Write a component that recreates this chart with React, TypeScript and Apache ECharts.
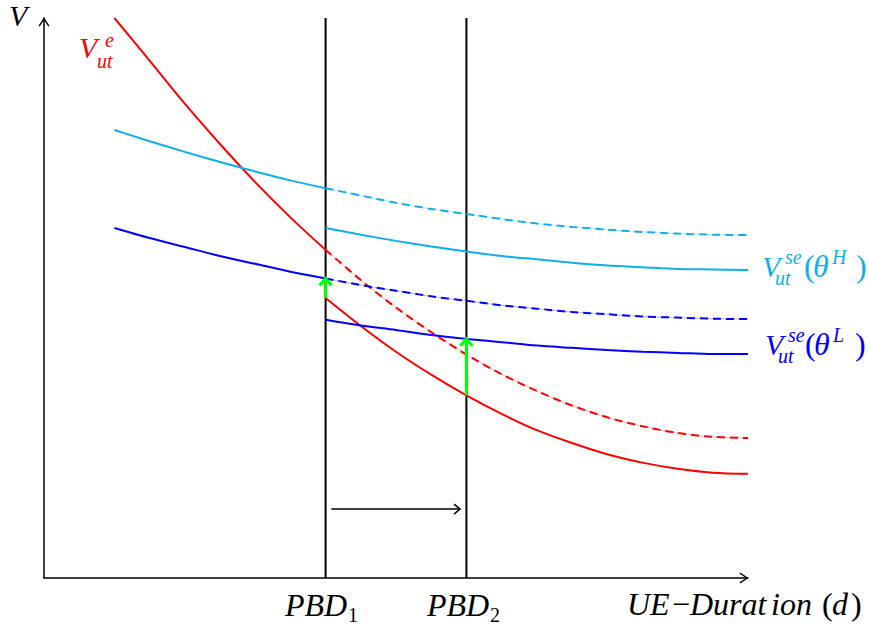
import React, { useEffect, useRef } from "react";
import * as echarts from "echarts";

// x positions (UE duration) at which curve values were read
const xsFull = [1, 1.5, 2, 2.5, 3, 3.5, 4, 4.5, 5, 5.5, 6, 6.5, 7, 7.5, 8, 8.5, 9, 9.5, 10];
const xsAfter = [4, 4.5, 5, 5.5, 6, 6.5, 7, 7.5, 8, 8.5, 9, 9.5, 10];

// V_ut^e (employment value) before the reform, and after it (from PBD1 on)
const redBefore = [10.0, 9.24, 8.47, 7.75, 7.07, 6.44, 5.86, 5.32, 4.83, 4.39, 3.99, 3.64, 3.34, 3.08, 2.87, 2.71, 2.59, 2.52, 2.5];
const redAfter = [5.0, 4.5, 4.04, 3.63, 3.26, 2.93, 2.64, 2.41, 2.21, 2.06, 1.95, 1.88, 1.86];

// V_ut^se(theta^H)
const cyanBefore = [8.0, 7.8, 7.61, 7.43, 7.26, 7.1, 6.96, 6.83, 6.7, 6.59, 6.5, 6.41, 6.33, 6.27, 6.22, 6.18, 6.15, 6.13, 6.125];
const cyanAfter = [6.25, 6.13, 6.02, 5.92, 5.83, 5.75, 5.69, 5.63, 5.58, 5.55, 5.52, 5.51, 5.5];

// V_ut^se(theta^L)
const blueBefore = [6.25, 6.07, 5.91, 5.75, 5.61, 5.47, 5.35, 5.23, 5.13, 5.03, 4.95, 4.87, 4.81, 4.75, 4.71, 4.67, 4.65, 4.63, 4.625];
const blueAfter = [4.61, 4.51, 4.43, 4.34, 4.27, 4.21, 4.15, 4.11, 4.07, 4.04, 4.02, 4.0, 4.0];

// vertical markers PBD1, PBD2
const pbdX = [4, 6];
const yTop = 10;

// arrows: [x0, y0, x1, y1]
const greenArrows = [
  [4, 5.0, 4, 5.35],
  [6, 3.26, 6, 4.27],
];
const shiftArrow = [[4.08, 1.23, 5.91, 1.23]];

const RED = "#ff0000";
const CYAN = "#10aeea";
const BLUE = "#0000ff";
const GREEN = "#00ff00";
const FONT = "Liberation Serif";

const pairs = (xs: number[], ys: number[]) => xs.map((x, i) => [x, ys[i]]);
const head = (xs: number[], ys: number[], upTo: number) =>
  xs.map((x, i) => [x, ys[i]]).filter((p) => p[0] <= upTo);
const tail = (xs: number[], ys: number[], from: number) =>
  xs.map((x, i) => [x, ys[i]]).filter((p) => p[0] >= from);

const CHEVRON = "path://M0,9 L6,0 L12,9 L10.7,9.8 L6,2.6 L1.3,9.8 Z";

function solid(data: number[][], color: string, z = 3) {
  return {
    type: "line",
    data,
    smooth: 0.3,
    symbol: "none",
    silent: true,
    z,
    lineStyle: { color, width: 2 },
  };
}

function dashed(data: number[][], color: string) {
  return [
    {
      type: "line",
      data,
      smooth: 0.3,
      symbol: "none",
      silent: true,
      z: 2,
      lineStyle: { color, width: 1, opacity: 0.3 },
    },
    {
      type: "line",
      data,
      smooth: 0.3,
      symbol: "none",
      silent: true,
      z: 3,
      lineStyle: { color, width: 2, type: [8, 5] },
    },
  ];
}

function arrowSeries(rows: number[][], color: string, width: number, hl: number, hw: number) {
  return {
    type: "custom",
    data: rows,
    silent: true,
    z: 5,
    encode: { x: [0, 2], y: [1, 3] },
    renderItem: (_params: any, api: any) => {
      const p0 = api.coord([api.value(0), api.value(1)]);
      const p1 = api.coord([api.value(2), api.value(3)]);
      const dx = p1[0] - p0[0];
      const dy = p1[1] - p0[1];
      const len = Math.hypot(dx, dy) || 1;
      const ux = dx / len;
      const uy = dy / len;
      const bx = p1[0] - ux * hl;
      const by = p1[1] - uy * hl;
      return {
        type: "group",
        children: [
          {
            type: "line",
            shape: { x1: p0[0], y1: p0[1], x2: p1[0], y2: p1[1] },
            style: { stroke: color, lineWidth: width },
          },
          {
            type: "polyline",
            shape: {
              points: [
                [bx - uy * hw, by + ux * hw],
                [p1[0], p1[1]],
                [bx + uy * hw, by - ux * hw],
              ],
            },
            style: { stroke: color, lineWidth: width, fill: "none" },
          },
        ],
      };
    },
  };
}

// text helper: x = left edge, b = baseline (approx)
function txt(text: string, x: number, b: number, size: number, fill: string, italic = true) {
  return {
    type: "text",
    x,
    y: b - size * 0.34,
    silent: true,
    style: {
      text,
      fill,
      fontFamily: FONT,
      fontSize: size,
      fontStyle: italic ? "italic" : "normal",
      align: "left",
      verticalAlign: "middle",
    },
  };
}

const M = 30;
const S = 20;

export default function App() {
  const ref = useRef<HTMLDivElement>(null);

  useEffect(() => {
    if (!ref.current) return;
    const chart = echarts.init(ref.current, null, { renderer: "svg" });

    const axisCommon = {
      type: "value",
      min: 0,
      max: 10,
      axisLine: {
        show: true,
        lineStyle: { color: "#000", width: 1.5 },
        symbol: ["none", CHEVRON],
        symbolSize: [12, 9],
        symbolOffset: [0, -4],
      },
      axisTick: { show: false },
      axisLabel: { show: false },
      splitLine: { show: false },
    };

    chart.setOption({
      animation: false,
      backgroundColor: "#fff",
      grid: { left: 44, right: 121, top: 18, bottom: 48, outerBoundsMode: "none" },
      xAxis: axisCommon,
      yAxis: axisCommon,
      series: [
        ...pbdX.map((x) => ({
          type: "line",
          data: [
            [x, 0],
            [x, yTop],
          ],
          symbol: "none",
          silent: true,
          z: 1,
          lineStyle: { color: "#000", width: 2 },
        })),
        solid(head(xsFull, redBefore, 4), RED),
        ...dashed(tail(xsFull, redBefore, 4), RED),
        solid(pairs(xsAfter, redAfter), RED),
        solid(head(xsFull, cyanBefore, 4), CYAN),
        ...dashed(tail(xsFull, cyanBefore, 4), CYAN),
        solid(pairs(xsAfter, cyanAfter), CYAN),
        solid(head(xsFull, blueBefore, 4), BLUE),
        ...dashed(tail(xsFull, blueBefore, 4), BLUE),
        solid(pairs(xsAfter, blueAfter), BLUE),
        arrowSeries(greenArrows, GREEN, 3, 7, 6),
        arrowSeries(shiftArrow, "#000", 1.5, 6, 5),
      ],
      graphic: [
        txt("V", 9, 26, M, "#000"),
        // V_ut^e
        txt("V", 79, 58, M, RED),
        txt("e", 105, 47, S, RED),
        txt("ut", 97, 68, S, RED),
        // V_ut^se(θ^H)
        txt("V", 762, 277, M, CYAN),
        txt("se", 785, 264, S, CYAN),
        txt("ut", 775, 285, S, CYAN),
        txt("(", 804, 277, 32, CYAN, false),
        txt("θ", 813, 277, 32, CYAN),
        txt("H", 832, 264, S, CYAN),
        txt(")", 856, 277, 32, CYAN, false),
        // V_ut^se(θ^L)
        txt("V", 765, 355, M, BLUE),
        txt("se", 788, 342, S, BLUE),
        txt("ut", 778, 363, S, BLUE),
        txt("(", 805, 355, 32, BLUE, false),
        txt("θ", 814, 355, 32, BLUE),
        txt("L", 833, 342, S, BLUE),
        txt(")", 855, 355, 32, BLUE, false),
        // x labels
        txt("PBD", 285, 616, 32, "#000"),
        txt("1", 348, 622, S, "#000", false),
        txt("PBD", 427, 616, 32, "#000"),
        txt("2", 490, 622, S, "#000", false),
        txt("UE", 627, 615, 32, "#000"),
        txt("−", 672, 615, 32, "#000", false),
        txt("Durat", 690, 615, 32, "#000"),
        txt("ion", 771, 615, 32, "#000"),
        txt("(", 822, 615, 32, "#000", false),
        txt("d", 832, 615, 32, "#000"),
        txt(")", 851, 615, 32, "#000", false),
      ],
    });

    return () => chart.dispose();
  }, []);

  return (
    <div
      ref={ref}
      style={{ position: "fixed", left: 0, top: 0, width: 869, height: 626, background: "#fff" }}
    />
  );
}
